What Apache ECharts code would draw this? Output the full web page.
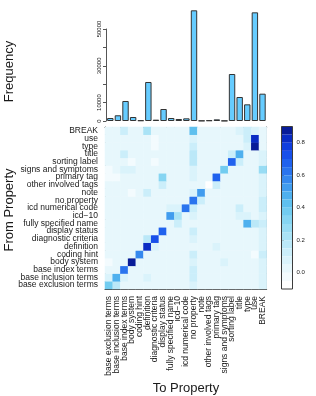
<!DOCTYPE html>
<html><head><meta charset="utf-8">
<script src="https://cdn.jsdelivr.net/npm/echarts@6/dist/echarts.min.js"></script>
<style>html,body{margin:0;padding:0;background:#fff}#c{width:316px;height:396px}</style>
</head><body><div id="c"></div>
<script>
const properties = ['base exclusion terms','base inclusion terms','base index terms','body system','coding hint','definition','diagnostic criteria','display status','fully specified name','icd\u221210','icd numerical code','no property','note','other involved tags','primary tag','signs and symptoms','sorting label','title','type','use','BREAK'];
const frequency = [1630, 3100, 10870, 2170, 360, 21200, 720, 6520, 1630, 1090, 1450, 60150, 180, 360, 900, 150, 25540, 13040, 9060, 59060, 14850];
const freqTicks = [0, 10000, 20000, 30000, 40000, 50000];
const freqTickLabels = ['0', '10000', '', '30000', '', '50000'];
const colorbarTicks = [0, 0.2, 0.4, 0.6, 0.8];
const levelBreaks = [-0.1,-0.05,0,0.05,0.1,0.15,0.2,0.25,0.3,0.35,0.4,0.45,0.5,0.55,0.6,0.65,0.7,0.75,0.8,0.85,0.9];
const levelColors = ['#ffffff','#f3fbfe','#e7f7fc','#daf3fb','#cbeefa','#bbe8f8','#aae3f6','#98dcf4','#86d5f2','#72ccf0','#5fc0ee','#4fb0ee','#419cee','#3588ee','#2a74ee','#2062ee','#1850ea','#103ede','#0a2cc4','#081c98'];

// heat values: one row per "From Property", columns follow `properties`
const fromBaseExclusionTerms = [0.38,0.17,0.04,0.02,0.02,0.03,0.02,0.02,0.02,0.02,0.02,0.07,0.02,0.02,0.02,0.02,0.03,0.02,0.02,0.02,0.08];
const fromBaseInclusionTerms = [0.09,0.45,0.07,0.02,0.02,0.07,0.02,0.02,0.02,0.02,0.02,0.12,0.02,0.02,0.02,0.02,0.02,0.02,0.03,0.02,0.09];
const fromBaseIndexTerms     = [0.03,0.03,0.60,0.04,0.02,0.02,0.02,0.03,0.02,0.02,0.02,0.12,0.02,0.02,0.02,0.02,0.03,0.02,0.02,0.02,0.09];
const fromBodySystem         = [-0.02,0.02,0.02,0.88,0.03,0.02,0.02,0.02,0.02,0.02,0.02,0.06,0.02,0.02,0.02,0.06,0.02,0.02,0.02,0.02,0.08];
const fromCodingHint         = [0.02,0.02,0.02,0.02,0.58,0.03,0.02,0.02,0.02,0.02,0.02,0.12,0.02,0.02,0.02,0.02,0.02,0.03,0.02,-0.02,0.10];
const fromDefinition         = [0.02,0.02,0.02,0.02,0.02,0.82,0.06,0.02,0.02,0.02,0.02,0.04,0.02,0.02,0.08,0.02,0.02,0.02,0.02,0.02,0.08];
const fromDiagnosticCriteria = [0.02,0.02,0.02,0.02,0.02,0.18,0.72,0.03,0.02,0.02,0.02,0.06,0.02,0.02,0.02,0.02,0.02,0.02,0.02,0.02,0.06];
const fromDisplayStatus      = [0.02,0.02,0.02,0.02,0.02,0.02,0.02,0.66,0.02,0.02,0.02,0.10,0.02,0.02,0.02,0.02,0.02,0.02,0.02,0.02,0.08];
const fromFullySpecifiedName = [0.02,0.02,0.02,0.02,0.02,0.02,0.02,0.02,0.04,0.10,0.02,0.04,0.02,0.02,0.02,0.02,0.02,0.02,0.46,0.18,0.10];
const fromIcd10              = [0.02,0.02,0.02,0.02,0.02,0.02,0.02,0.02,0.52,0.20,0.02,0.08,0.02,0.02,0.02,0.02,0.02,0.06,0.08,0.02,0.08];
const fromIcdNumericalCode   = [0.02,0.02,0.02,0.02,0.02,0.02,0.02,0.02,0.06,0.07,0.61,0.14,0.02,0.02,0.02,0.02,0.02,0.10,0.02,0.02,0.10];
const fromNoProperty         = [0.02,0.02,0.02,0.02,0.02,0.02,0.02,0.02,0.02,0.02,0.04,0.62,0.14,0.02,0.02,0.02,0.02,0.02,0.02,0.02,0.10];
const fromNote               = [0.02,0.02,0.03,-0.02,0.02,0.12,0.02,0.02,0.02,0.02,0.02,0.06,0.52,0.02,0.02,0.02,0.02,0.02,0.02,0.02,0.08];
const fromOtherInvolvedTags  = [0.02,0.02,0.02,0.02,0.02,0.02,0.02,0.12,0.02,0.02,0.02,0.04,0.02,0.90,0.10,0.02,0.02,0.02,0.03,0.02,0.06];
const fromPrimaryTag         = [-0.02,-0.02,0.02,0.02,0.02,0.02,0.02,0.30,0.02,0.02,0.02,0.06,0.02,0.02,0.66,0.04,0.02,0.02,0.02,0.02,0.08];
const fromSignsAndSymptoms   = [-0.01,0.00,0.06,0.06,0.02,0.02,0.02,0.02,0.02,0.02,0.02,0.08,0.02,0.02,0.02,0.36,0.02,0.02,0.02,0.02,0.28];
const fromSortingLabel       = [0.02,0.02,0.02,-0.02,0.02,0.02,-0.02,0.02,0.02,0.02,0.02,0.17,0.02,0.02,0.02,0.02,0.66,0.12,0.02,0.02,0.06];
const fromTitle              = [0.02,0.02,0.10,0.02,0.02,0.02,0.02,0.02,0.02,0.02,0.02,0.17,0.02,0.02,0.02,0.02,0.12,0.48,0.02,0.02,0.06];
const fromType               = [0.02,0.02,0.02,0.02,0.02,0.02,-0.02,0.02,0.02,0.02,0.02,0.10,0.02,0.02,0.02,0.02,0.02,0.02,0.06,0.88,0.04];
const fromUse                = [0.02,0.02,0.02,0.02,0.02,0.02,-0.02,0.02,0.02,0.02,0.02,0.08,0.02,0.02,0.02,0.02,0.02,0.04,0.14,0.80,0.04];
const fromBREAK              = [0.02,0.02,0.10,0.02,0.02,0.20,0.02,0.02,0.02,0.02,0.02,0.40,0.02,0.02,0.02,0.02,0.02,0.08,0.12,0.06,0.02];

const heatRows = [fromBaseExclusionTerms, fromBaseInclusionTerms, fromBaseIndexTerms, fromBodySystem, fromCodingHint, fromDefinition, fromDiagnosticCriteria, fromDisplayStatus, fromFullySpecifiedName, fromIcd10, fromIcdNumericalCode, fromNoProperty, fromNote, fromOtherInvolvedTags, fromPrimaryTag, fromSignsAndSymptoms, fromSortingLabel, fromTitle, fromType, fromUse, fromBREAK];

const heatData = [];
heatRows.forEach((row, r) => row.forEach((v, c) => heatData.push([c, r, v])));

const FONT = 'Liberation Sans, Arial, Helvetica, sans-serif';
const TXT = '#1a1a1a';
const LINE = '#3c3c3c';

const chart = echarts.init(document.getElementById('c'), null, {renderer: 'canvas'});
chart.setOption({
  animation: false,
  backgroundColor: '#ffffff',
  grid: [
    {left: 106.5, top: 6.92, width: 159.8, height: 114.08},
    {left: 106, top: 29, width: 1, height: 92},
    {left: 105, top: 127, width: 161.7, height: 162},
    {left: 281.5, top: 126.5, width: 11, height: 162.5}
  ],
  xAxis: [
    {gridIndex: 0, type: 'category', data: properties, show: false},
    {gridIndex: 1, type: 'value', show: false},
    {gridIndex: 2, type: 'category', data: properties, position: 'bottom',
      axisLine: {lineStyle: {color: LINE, width: 1}},
      axisTick: {alignWithLabel: true, length: 4, lineStyle: {color: LINE}},
      axisLabel: {interval: 0, rotate: 90, fontSize: 8.5, fontFamily: FONT, color: TXT, margin: 7},
      splitLine: {show: false}},
    {gridIndex: 2, type: 'category', data: properties, position: 'top',
      axisLine: {lineStyle: {color: LINE, width: 1}},
      axisTick: {alignWithLabel: true, length: 3.5, lineStyle: {color: LINE}},
      axisLabel: {show: false}, splitLine: {show: false}},
    {gridIndex: 3, type: 'value', show: false}
  ],
  yAxis: [
    {gridIndex: 0, type: 'value', min: 0, max: 62000, show: false},
    {gridIndex: 1, type: 'value', min: 0, max: 50000, interval: 10000, position: 'left',
      axisLine: {show: true, lineStyle: {color: '#555', width: 1}},
      axisTick: {show: true, length: 3, lineStyle: {color: '#555'}},
      axisLabel: {rotate: 90, fontSize: 6, fontFamily: FONT, color: TXT, margin: 4,
        formatter: v => freqTickLabels[freqTicks.indexOf(v)] || ''},
      splitLine: {show: false}},
    {gridIndex: 2, type: 'category', data: properties, position: 'left',
      axisLine: {lineStyle: {color: LINE, width: 1}},
      axisTick: {alignWithLabel: true, length: 4, lineStyle: {color: LINE}},
      axisLabel: {interval: 0, fontSize: 8.5, fontFamily: FONT, color: TXT, margin: 7},
      splitLine: {show: false}},
    {gridIndex: 2, type: 'category', data: properties, position: 'right',
      axisLine: {lineStyle: {color: LINE, width: 1}},
      axisTick: {alignWithLabel: true, length: 3.5, lineStyle: {color: LINE}},
      axisLabel: {show: false}, splitLine: {show: false}},
    {gridIndex: 3, type: 'value', min: -0.1, max: 0.9, position: 'right',
      axisLine: {show: false},
      axisTick: {show: true, length: 2.5, customValues: colorbarTicks, lineStyle: {color: LINE}},
      axisLabel: {show: true, customValues: colorbarTicks, fontSize: 6, fontFamily: FONT, color: TXT, margin: 4,
        formatter: v => v.toFixed(1)},
      splitLine: {show: false}}
  ],
  visualMap: {
    type: 'piecewise', seriesIndex: 1, orient: 'vertical',
    left: 281.5, top: 126.5, padding: 0,
    itemWidth: 11, itemHeight: 162.5 / 20, itemGap: 0, itemSymbol: 'rect',
    showLabel: false, selectedMode: false,
    pieces: levelColors.map((col, i) => ({gte: levelBreaks[i], lt: levelBreaks[i + 1], color: col}))
  },
  graphic: [
    {type: 'rect', z: 100, shape: {x: 281.5, y: 126.5, width: 11, height: 162.5},
      style: {fill: 'none', stroke: LINE, lineWidth: 1}},
    {type: 'text', x: 9, y: 71.5, rotation: Math.PI / 2,
      style: {text: 'Frequency', font: '13px ' + FONT, fill: TXT, textAlign: 'center', textVerticalAlign: 'middle'}},
    {type: 'text', x: 9, y: 210, rotation: Math.PI / 2,
      style: {text: 'From Property', font: '13px ' + FONT, fill: TXT, textAlign: 'center', textVerticalAlign: 'middle'}},
    {type: 'text', x: 186, y: 388, 
      style: {text: 'To Property', font: '13px ' + FONT, fill: TXT, textAlign: 'center', textVerticalAlign: 'middle'}}
  ],
  series: [
    {type: 'bar', xAxisIndex: 0, yAxisIndex: 0, data: frequency, barWidth: 6.4,
      itemStyle: {color: '#66ccff', borderColor: '#333333', borderWidth: 1}},
    {type: 'heatmap', xAxisIndex: 2, yAxisIndex: 2, data: heatData,
      itemStyle: {borderWidth: 0}, emphasis: {disabled: true}}
  ]
});
</script>
</body></html>
